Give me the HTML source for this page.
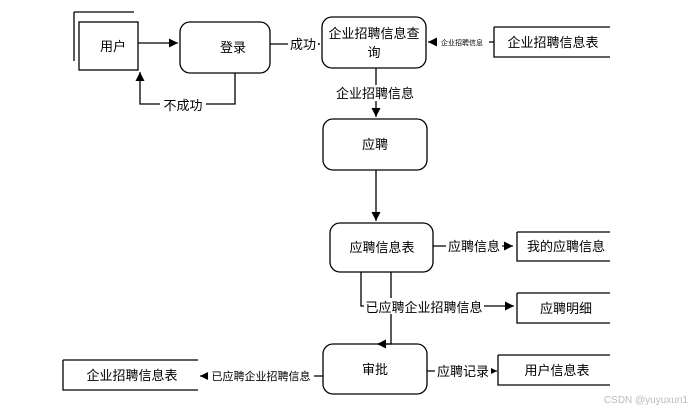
<!DOCTYPE html>
<html><head><meta charset="utf-8"><style>
body{margin:0;background:#fff;width:692px;height:413px;overflow:hidden}
svg text{font-family:"Liberation Sans","Noto Sans CJK SC",sans-serif;fill:#000}
</style></head><body>
<svg width="692" height="413" viewBox="0 0 692 413" xmlns="http://www.w3.org/2000/svg">
<defs><marker id="a" viewBox="0 0 10 10" refX="10" refY="5" markerWidth="7" markerHeight="7" orient="auto"><path d="M0,0L10,5L0,10z" fill="#000"/></marker></defs>
<g fill="none" stroke="#000" stroke-width="1.3">
<path d="M74,12H134M74,12V61"/>
<rect x="79" y="22" width="59" height="48" fill="#fff"/>
<rect x="180" y="22" width="90" height="51" rx="10"/>
<rect x="322" y="17" width="104" height="51" rx="10"/>
<path d="M494,27H610M494,27V57H610"/>
<rect x="323" y="119" width="104" height="51" rx="10"/>
<rect x="330" y="223" width="103" height="49" rx="10"/>
<path d="M517,232H610M517,232V261H610"/>
<path d="M517,293H610M517,293V323H610"/>
<rect x="323" y="344" width="104" height="50" rx="10"/>
<path d="M498,355H610M498,355V385H610"/>
<path d="M63,360H198M63,360V390H198"/>
<path d="M138,43H178" marker-end="url(#a)"/>
<path d="M235,73V104H140V72" marker-end="url(#a)"/>
<path d="M270,44H320" marker-end="url(#a)"/>
<path d="M494,42H428" marker-end="url(#a)"/>
<path d="M376,68V117" marker-end="url(#a)"/>
<path d="M376,170V221" marker-end="url(#a)"/>
<path d="M433,246H513" marker-end="url(#a)"/>
<path d="M361,272V306H514" marker-end="url(#a)"/>
<path d="M391,272V344H377" marker-end="url(#a)"/>
<path d="M427,371H497" marker-end="url(#a)"/>
<path d="M323,376H200" marker-end="url(#a)"/>
</g>
<g font-size="13">
<rect x="160" y="97" width="46" height="16" fill="#fff"/>
<rect x="288" y="36" width="30" height="16" fill="#fff"/>
<rect x="437" y="36" width="52" height="12" fill="#fff"/>
<rect x="334" y="85" width="82" height="16" fill="#fff"/>
<rect x="446" y="238" width="56" height="16" fill="#fff"/>
<rect x="364" y="298" width="120" height="16" fill="#fff"/>
<rect x="435" y="363" width="56" height="16" fill="#fff"/>
<rect x="208" y="369" width="106" height="14" fill="#fff"/>
<text x="113" y="51" text-anchor="middle">用户</text>
<text x="233" y="52" text-anchor="middle">登录</text>
<text x="374" y="38" text-anchor="middle">企业招聘信息查</text>
<text x="374" y="57" text-anchor="middle">询</text>
<text x="553" y="47" text-anchor="middle">企业招聘信息表</text>
<text x="183" y="110" text-anchor="middle">不成功</text>
<text x="303" y="49" text-anchor="middle">成功</text>
<text x="462" y="45" text-anchor="middle" font-size="7">企业招聘信息</text>
<text x="375" y="98" text-anchor="middle">企业招聘信息</text>
<text x="375" y="149" text-anchor="middle">应聘</text>
<text x="382" y="252" text-anchor="middle">应聘信息表</text>
<text x="474" y="251" text-anchor="middle">应聘信息</text>
<text x="566" y="251" text-anchor="middle">我的应聘信息</text>
<text x="424" y="312" text-anchor="middle">已应聘企业招聘信息</text>
<text x="566" y="313" text-anchor="middle">应聘明细</text>
<text x="375" y="374" text-anchor="middle">审批</text>
<text x="463" y="376" text-anchor="middle">应聘记录</text>
<text x="557" y="375" text-anchor="middle">用户信息表</text>
<text x="132" y="380" text-anchor="middle">企业招聘信息表</text>
<text x="261" y="380" text-anchor="middle" font-size="11">已应聘企业招聘信息</text>
<text x="688" y="403" text-anchor="end" font-size="10" style="fill:#bbb">CSDN @yuyuxun1</text>
</g>
</svg>
</body></html>
